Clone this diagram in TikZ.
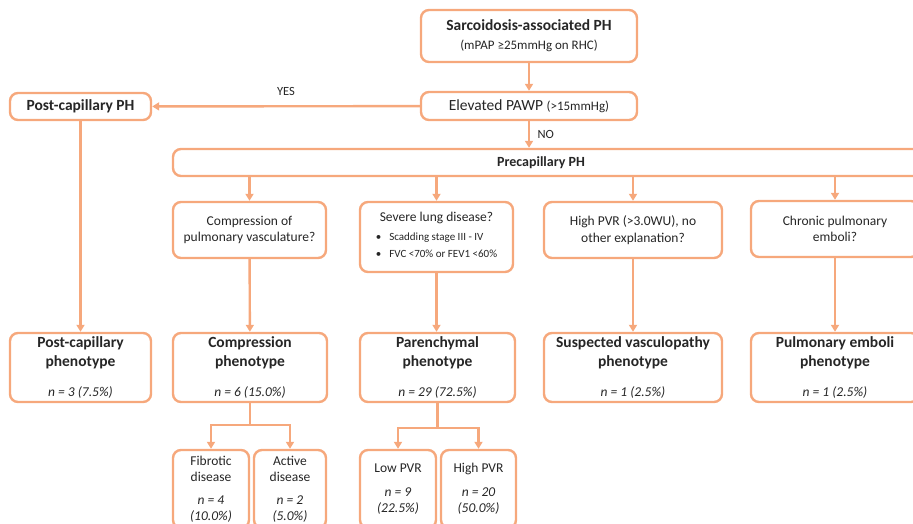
\documentclass[tikz,border=0pt]{standalone}
\usepackage{fontspec}
\setmainfont{Carlito}
\usetikzlibrary{arrows.meta}
\definecolor{phorange}{RGB}{246,168,124}
\begin{document}
\begin{tikzpicture}[x=1pt,y=-1pt,
  box/.style={draw=phorange, line width=2.4pt, rounded corners=8pt, fill=white, inner sep=2pt, align=center, text=black!85},
  bigbox/.style={box, font=\fontsize{15.5}{19}\selectfont\bfseries},
  askbox/.style={box, font=\fontsize{13.5}{16.5}\selectfont},
  subbox/.style={box, font=\fontsize{13.5}{16}\selectfont, minimum height=78pt},
  conn/.style={draw=phorange, line width=2.4pt, -{Triangle[length=7pt,width=8pt]}},
  tag/.style={font=\fontsize{12.5}{15}\selectfont, text=black!85}]
  \useasboundingbox (0,0) rectangle (913,523);
  \node[bigbox, minimum width=216pt, minimum height=52pt] (sarc) at (529,36) {Sarcoidosis-associated PH\\{\mdseries\fontsize{13}{16}\selectfont (mPAP ≥25mmHg on RHC)}};
  \node[box, font=\fontsize{15.5}{19}\selectfont, minimum width=216pt, minimum height=28pt] (pawp) at (529,106) {Elevated PAWP {\fontsize{13}{16}\selectfont(>15mmHg)}};
  \node[bigbox, minimum width=141pt, minimum height=27pt] (postph) at (80.5,106.5) {Post-capillary PH};
  \node[bigbox, font=\fontsize{14}{17}\selectfont\bfseries, minimum width=762pt, minimum height=27pt] (pre) at (554,162.5) {Precapillary PH\hspace*{26pt}};
  \node[askbox, minimum width=153pt, minimum height=56pt] (compq) at (249.5,230) {Compression of\\pulmonary vasculature?};
  \node[askbox, minimum width=153pt, minimum height=70pt] (lungq) at (436.5,237) {Severe lung disease?\\[4pt]{\fontsize{11}{17}\selectfont\begin{tabular}{@{}l@{\hspace{8pt}}l@{}}\textbullet & Scadding stage III - IV\\\textbullet & FVC <70\% or FEV1 <60\%\end{tabular}}\\[-3pt]};
  \node[askbox, minimum width=178pt, minimum height=56pt] (pvrq) at (633,230) {High PVR (>3.0WU), no\\other explanation?};
  \node[askbox, minimum width=168pt, minimum height=56pt] (embq) at (835,229) {Chronic pulmonary\\emboli?};
  \node[bigbox, minimum width=141pt, minimum height=69pt] (postpt) at (80.5,367.5) {Post-capillary\\phenotype\\[11pt]{\mdseries\itshape\fontsize{13.5}{16}\selectfont n = 3 (7.5\%)}};
  \node[bigbox, minimum width=154pt, minimum height=69pt] (comppt) at (250,367.5) {Compression\\phenotype\\[11pt]{\mdseries\itshape\fontsize{13.5}{16}\selectfont n = 6 (15.0\%)}};
  \node[bigbox, minimum width=155pt, minimum height=69pt] (parpt) at (437.5,367.5) {Parenchymal\\phenotype\\[11pt]{\mdseries\itshape\fontsize{13.5}{16}\selectfont n = 29 (72.5\%)}};
  \node[bigbox, minimum width=178pt, minimum height=69pt] (vascpt) at (633,367.5) {Suspected vasculopathy\\phenotype\\[11pt]{\mdseries\itshape\fontsize{13.5}{16}\selectfont n = 1 (2.5\%)}};
  \node[bigbox, minimum width=168pt, minimum height=69pt] (embpt) at (835,367.5) {Pulmonary emboli\\phenotype\\[11pt]{\mdseries\itshape\fontsize{13.5}{16}\selectfont n = 1 (2.5\%)}};
  \node[subbox, minimum width=76pt] (fib) at (211,489) {Fibrotic\\disease\\[7pt]{\itshape n = 4}\\{\itshape (10.0\%)}};
  \node[subbox, minimum width=72pt] (act) at (290,489) {Active\\disease\\[7pt]{\itshape n = 2}\\{\itshape (5.0\%)}};
  \node[subbox, minimum width=76pt] (lowpvr) at (398,489) {Low PVR\\[8pt]{\itshape n = 9}\\{\itshape (22.5\%)}};
  \node[subbox, minimum width=75pt] (highpvr) at (478.5,489) {High PVR\\[8pt]{\itshape n = 20}\\{\itshape (50.0\%)}};
  \draw[conn] (sarc) -- (pawp);
  \draw[conn] (pawp) -- node[tag, above=6pt] (yes) {YES} (postph);
  \draw[conn] (pawp.south) -- node[tag, right=4pt] (no) {NO} (pawp.south |- pre.north);
  \draw[conn] (compq.north |- pre.south) -- (compq.north);
  \draw[conn] (lungq.north |- pre.south) -- (lungq.north);
  \draw[conn] (pvrq.north |- pre.south) -- (pvrq.north);
  \draw[conn] (embq.north |- pre.south) -- (embq.north);
  \draw[conn] (postph) -- (postpt);
  \draw[conn] (compq) -- (comppt);
  \draw[conn] (lungq.south) -- (lungq.south |- parpt.north);
  \draw[conn] (pvrq) -- (vascpt);
  \draw[conn] (embq) -- (embpt);
  \draw[conn] (comppt.south) -- ++(0,22) -| (fib.north);
  \draw[conn] (comppt.south) -- ++(0,22) -| (act.north);
  \draw[conn] (parpt.south) -- ++(0,25) -| (lowpvr.north);
  \draw[conn] (parpt.south) -- ++(0,25) -| (highpvr.north);
\end{tikzpicture}
\end{document}
